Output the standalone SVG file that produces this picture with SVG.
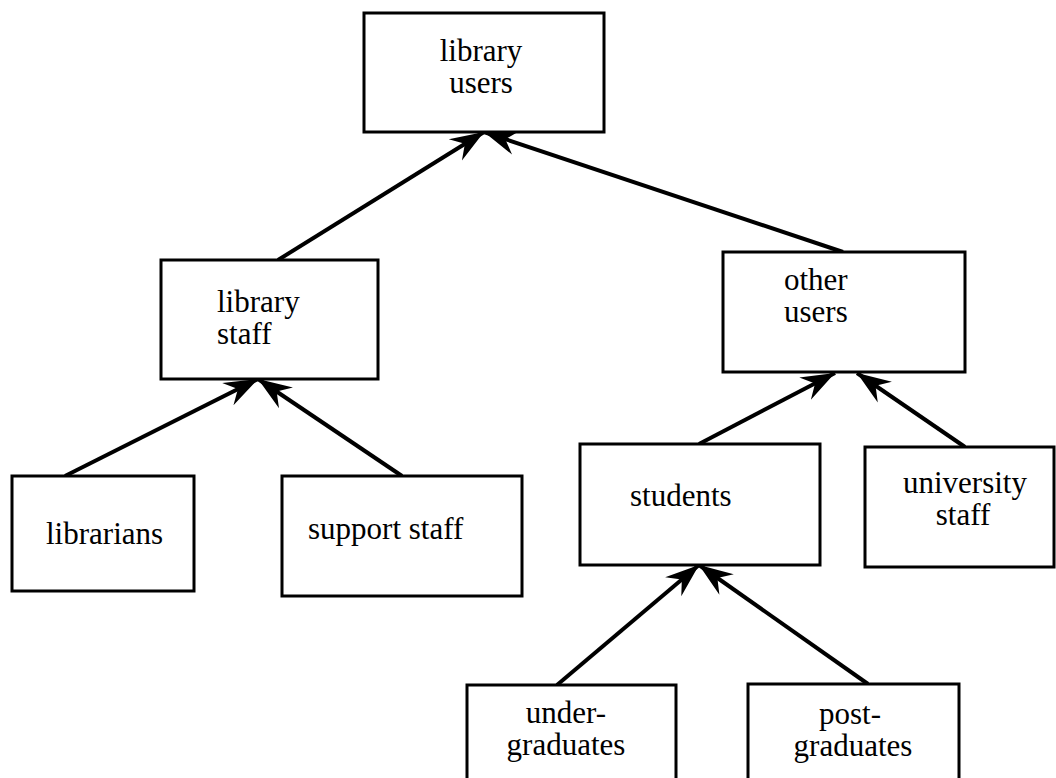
<svg xmlns="http://www.w3.org/2000/svg" width="1056" height="778" viewBox="0 0 1056 778">
  <style>
    .box { fill: #fff; stroke: #000; stroke-width: 3; }
    .lbl { font-family: "Liberation Serif", "Tinos", "DejaVu Serif", "Times New Roman", serif; font-size: 31px; fill: #000; }
    .mid { text-anchor: middle; }
    .link { stroke: #000; stroke-width: 4; fill: none; marker-end: url(#barb); }
  </style>
  <defs>
    <marker id="barb" markerUnits="userSpaceOnUse" markerWidth="40" markerHeight="40" viewBox="-30 -15 32 30" refX="0" refY="0" orient="auto" overflow="visible">
      <path d="M0,0 L-27,-10 L-18,0 L-27,10 Z" fill="#000"/>
    </marker>
  </defs>
  <rect width="1056" height="778" fill="#fff"/>

  <g id="connectors">
    <line class="link" x1="278" y1="260" x2="484" y2="132"/>
    <line class="link" x1="843" y1="252" x2="484" y2="132"/>
    <line class="link" x1="65" y1="476" x2="258" y2="379"/>
    <line class="link" x1="402" y1="476" x2="258" y2="379"/>
    <line class="link" x1="699" y1="444" x2="835" y2="373"/>
    <line class="link" x1="965" y1="447" x2="857" y2="373"/>
    <line class="link" x1="557" y1="685" x2="699" y2="565"/>
    <line class="link" x1="868" y1="684" x2="699" y2="565"/>
  </g>

  <g id="library-users">
    <rect class="box" x="364" y="13" width="240" height="119"/>
    <text class="lbl mid" x="481" y="61" font-family="Liberation Serif, serif">library</text>
    <text class="lbl mid" x="481" y="93" font-family="Liberation Serif, serif">users</text>
  </g>

  <g id="library-staff">
    <rect class="box" x="161" y="260" width="217" height="119"/>
    <text class="lbl" x="217" y="312" font-family="Liberation Serif, serif">library</text>
    <text class="lbl" x="217" y="344" font-family="Liberation Serif, serif">staff</text>
  </g>

  <g id="other-users">
    <rect class="box" x="723" y="252" width="242" height="120"/>
    <text class="lbl" x="784" y="290" font-family="Liberation Serif, serif">other</text>
    <text class="lbl" x="784" y="322" font-family="Liberation Serif, serif">users</text>
  </g>

  <g id="librarians">
    <rect class="box" x="12" y="476" width="182" height="115"/>
    <text class="lbl" x="46" y="544" font-family="Liberation Serif, serif">librarians</text>
  </g>

  <g id="support-staff">
    <rect class="box" x="282" y="476" width="240" height="120"/>
    <text class="lbl" x="308" y="539" font-family="Liberation Serif, serif">support staff</text>
  </g>

  <g id="students">
    <rect class="box" x="580" y="444" width="240" height="121"/>
    <text class="lbl" x="630" y="506" font-family="Liberation Serif, serif">students</text>
  </g>

  <g id="university-staff">
    <rect class="box" x="865" y="447" width="189" height="120"/>
    <text class="lbl mid" x="965" y="493" font-family="Liberation Serif, serif">university</text>
    <text class="lbl mid" x="963" y="525" font-family="Liberation Serif, serif">staff</text>
  </g>

  <g id="undergraduates">
    <rect class="box" x="467" y="685" width="209" height="120"/>
    <text class="lbl mid" x="566" y="723" font-family="Liberation Serif, serif">under-</text>
    <text class="lbl mid" x="566" y="755" font-family="Liberation Serif, serif">graduates</text>
  </g>

  <g id="postgraduates">
    <rect class="box" x="748" y="684" width="211" height="120"/>
    <text class="lbl mid" x="850" y="724" font-family="Liberation Serif, serif">post-</text>
    <text class="lbl mid" x="853" y="756" font-family="Liberation Serif, serif">graduates</text>
  </g>
</svg>
